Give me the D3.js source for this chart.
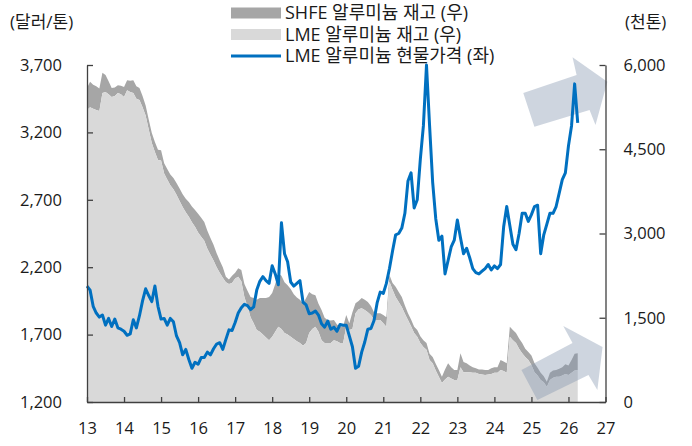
<!DOCTYPE html>
<html>
<head>
<meta charset="utf-8">
<script src="https://cdn.jsdelivr.net/npm/d3@7"></script>
<style>
  body { margin: 0; background: #fff; }
  svg text { font-family: "Open Sans", "Noto Sans CJK KR", sans-serif; fill: #1a1a1a; }
</style>
</head>
<body>
<svg id="chart" width="692" height="446"></svg>
<script>
// monthly values, Jan 2013 .. Apr 2026
// LME aluminium cash price ($/t)
const lmePrice = [
  2060, 2030, 1910, 1860, 1830, 1845, 1770, 1820, 1760, 1815, 1750, 1740, // 2013
  1725, 1695, 1705, 1810, 1750, 1840, 1950, 2040, 1990, 1945, 2060, 1910, // 2014
  1815, 1820, 1770, 1820, 1795, 1690, 1640, 1550, 1590, 1515, 1450, 1495, // 2015
  1480, 1530, 1530, 1570, 1550, 1595, 1630, 1640, 1590, 1665, 1735, 1730, // 2016
  1790, 1860, 1900, 1925, 1915, 1885, 1905, 2030, 2095, 2130, 2100, 2080, // 2017
  2210, 2150, 2070, 2530, 2300, 2240, 2090, 2060, 2080, 2100, 1940, 1920, // 2018
  1855, 1860, 1875, 1845, 1780, 1755, 1800, 1740, 1755, 1725, 1775, 1770, // 2019
  1770, 1690, 1610, 1450, 1465, 1570, 1645, 1740, 1745, 1805, 1935, 2015, // 2020
  2005, 2080, 2190, 2320, 2440, 2450, 2490, 2600, 2840, 2900, 2640, 2700, // 2021
  3000, 3250, 3700, 3250, 2830, 2560, 2400, 2430, 2150, 2250, 2350, 2400, // 2022
  2550, 2420, 2300, 2340, 2270, 2190, 2160, 2150, 2170, 2190, 2220, 2180, // 2023
  2210, 2190, 2220, 2500, 2650, 2510, 2370, 2330, 2450, 2600, 2600, 2540, // 2024
  2590, 2650, 2660, 2300, 2440, 2520, 2600, 2600, 2650, 2750, 2850, 2900, // 2025
  3100, 3250, 3560, 3270                                                  // 2026
];
// LME aluminium stocks (kt)
const lmeStock = [
  5200, 5250, 5220, 5200, 5180, 5500, 5520, 5480, 5430, 5450, 5500, 5480,
  5430, 5550, 5520, 5500, 5400, 5375, 5250, 5100, 4850, 4610, 4450, 4310,
  4300, 4070, 3960, 3860, 3790, 3690, 3580, 3470, 3380, 3300, 3200, 3120,
  3020, 2940, 2870, 2730, 2620, 2520, 2400, 2300, 2210, 2130, 2100, 2120,
  2200, 2230, 2150, 1870, 1700, 1510, 1400, 1280, 1250, 1200, 1150, 1100,
  1160, 1250, 1340, 1300, 1230, 1200, 1160, 1120, 1080, 1050, 1000, 1050,
  1230, 1300, 1340, 1250, 1100, 1050, 1050, 1050, 1100, 1080, 1050, 1050,
  1350, 1280, 1300, 1580, 1650, 1670, 1640, 1600, 1550, 1460, 1460, 1460,
  1400, 1340, 2140, 2000, 1870, 1780, 1690, 1570, 1460, 1350, 1230, 1160,
  1050, 980, 930, 750, 690, 560, 450, 340, 400, 450, 420, 390,
  390, 620, 530, 530, 530, 520, 520, 500, 490, 480, 490, 500,
  520, 520, 570, 550, 520, 1160, 1100, 1050, 950, 870, 800, 750,
  660, 530, 470, 390, 350, 270, 390, 430, 450, 450, 470, 500,
  480, 520, 560, 570
];
// SHFE aluminium stocks (kt), stacked on top of LME
const shfeStock = [
  390, 450, 430, 420, 400, 360, 300, 230, 160, 150, 140, 150,
  180, 180, 200, 230, 220, 215, 200, 180, 180, 180, 180, 180,
  180, 180, 190, 190, 200, 210, 220, 230, 240, 260, 280, 300,
  330, 340, 335, 320, 300, 280, 250, 220, 190, 100, 80, 130,
  100, 150, 200, 230, 280, 360, 450, 540, 600, 650, 700, 770,
  780, 850, 950, 950, 900, 880, 850, 800, 780, 770, 750, 800,
  730, 620, 560, 500, 540, 450, 410, 400, 360, 300, 290, 300,
  200, 120, 300, 180, 150, 180, 180, 180, 160, 140, 120, 120,
  150, 170, 120, 120, 180, 180, 180, 150, 120, 120, 110, 120,
  120, 120, 120, 110, 110, 120, 120, 110, 180, 240, 200, 180,
  180, 250, 180, 160, 120, 100, 80, 80, 90, 90, 80, 100,
  100, 100, 180, 170, 170, 180, 180, 180, 180, 180, 150, 140,
  170, 160, 140, 130, 110, 90, 130, 130, 120, 140, 150, 170,
  170, 230, 300, 300
];

const yearTicks = d3.range(13, 28);
const leftTicks = [1200, 1700, 2200, 2700, 3200, 3700];
const rightTicks = [0, 1500, 3000, 4500, 6000];

// outlook arrows, in (year, kt) on the right axis
const arrowUpper = [[24.78, 5500], [26.22, 5820], [26.11, 6140], [27.05, 5700], [26.73, 4930], [26.57, 5200], [25.08, 4900]];
const arrowLower = [[24.73, 570], [26.11, 1050], [25.86, 1353], [26.92, 980], [26.78, 214], [26.54, 480], [25.16, 36]];

const legendItems = [
  { label: 'SHFE 알루미늄 재고 (우)', type: 'rect', color: '#a6a6a6' },
  { label: 'LME 알루미늄 재고 (우)', type: 'rect', color: '#d9d9d9' },
  { label: 'LME 알루미늄 현물가격 (좌)', type: 'line', color: '#0070c0' }
];

const rows = lmePrice.map((p, i) => ({
  t: 13 + i / 12,
  price: p,
  lme: lmeStock[i],
  total: lmeStock[i] + shfeStock[i]
}));

const svg = d3.select('#chart');
const plotL = 87, plotR = 605.5, plotT = 65, plotB = 402;

const x = d3.scaleLinear().domain([13, 27]).range([plotL, plotR]);
const yL = d3.scaleLinear().domain([1200, 3700]).range([plotB, plotT]);
const yR = d3.scaleLinear().domain([0, 6000]).range([plotB, plotT]);

// stacked inventory areas
svg.append('path')
  .datum(rows)
  .attr('fill', '#a6a6a6')
  .attr('d', d3.area().x(d => x(d.t)).y0(d => yR(d.lme)).y1(d => yR(d.total)));

svg.append('path')
  .datum(rows)
  .attr('fill', '#d9d9d9')
  .attr('d', d3.area().x(d => x(d.t)).y0(yR(0)).y1(d => yR(d.lme)));

// arrows
const arrowLine = d3.line().x(d => x(d[0])).y(d => yR(d[1]));
[arrowUpper, arrowLower].forEach(a => {
  svg.append('path')
    .attr('d', arrowLine(a) + 'Z')
    .attr('fill', '#8497b0')
    .attr('fill-opacity', 0.4);
});

// price line
svg.append('path')
  .datum(rows)
  .attr('fill', 'none')
  .attr('stroke', '#0070c0')
  .attr('stroke-width', 3)
  .attr('stroke-linejoin', 'round')
  .attr('d', d3.line().x(d => x(d.t)).y(d => yL(d.price)));

// axes
const fmt = d3.format(',');
const axL = svg.append('g')
  .attr('transform', `translate(${plotL},0)`)
  .call(d3.axisLeft(yL).tickValues(leftTicks).tickFormat(fmt).tickSize(-6).tickSizeOuter(0).tickPadding(25));
const axR = svg.append('g')
  .attr('transform', `translate(${plotR},0)`)
  .call(d3.axisRight(yR).tickValues(rightTicks).tickFormat(fmt).tickSize(-6).tickSizeOuter(0).tickPadding(18));
const axB = svg.append('g')
  .attr('transform', `translate(0,${plotB})`)
  .call(d3.axisBottom(x).tickValues(yearTicks).tickFormat(d => d).tickSize(-5).tickSizeOuter(0).tickPadding(20));

[axL, axR, axB].forEach(g => {
  g.selectAll('path, line').attr('stroke', '#404040').attr('stroke-width', 1.3);
  g.selectAll('text').attr('font-size', 16.5).attr('fill', '#1a1a1a')
    .attr('font-family', '"Open Sans", "Noto Sans CJK KR", sans-serif');
});

// axis unit labels
svg.append('text').attr('x', 10).attr('y', 22).attr('dy', '0.35em').attr('font-size', 17).text('(달러/톤)');
svg.append('text').attr('x', 625).attr('y', 22).attr('dy', '0.35em').attr('font-size', 17).text('(천톤)');

// legend
const lg = svg.append('g');
legendItems.forEach((it, i) => {
  const cy = 13 + i * 21.5;
  if (it.type === 'rect') {
    lg.append('rect').attr('x', 231).attr('y', cy - 5.5).attr('width', 50).attr('height', 11).attr('fill', it.color);
  } else {
    lg.append('line').attr('x1', 231).attr('x2', 281).attr('y1', cy).attr('y2', cy)
      .attr('stroke', it.color).attr('stroke-width', 2.8);
  }
  lg.append('text').attr('x', 285).attr('y', cy).attr('dy', '0.35em').attr('font-size', 18).text(it.label);
});
</script>
</body>
</html>
